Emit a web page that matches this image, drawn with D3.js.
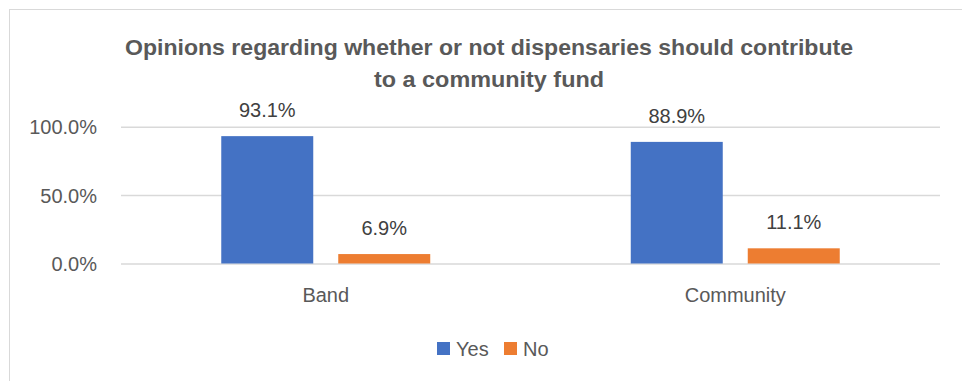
<!DOCTYPE html>
<html>
<head>
<meta charset="utf-8">
<script src="https://cdn.jsdelivr.net/npm/d3@7"></script>
<style>
  html, body { margin: 0; padding: 0; background: #fff; }
  svg { display: block; }
  text { font-family: "Liberation Sans", Arial, sans-serif; }
</style>
</head>
<body>
<svg id="chart" width="962" height="381"></svg>
<script>
// Survey results: share of respondents per group
const categories = ["Band", "Community"];
const seriesNames = ["Yes", "No"];
const yesValues = [93.1, 88.9];
const noValues = [6.9, 11.1];
const yTicks = [0, 50, 100];
const titleLines = [
  "Opinions regarding whether or not dispensaries should contribute",
  "to a community fund"
];
const colors = { Yes: "#4472C4", No: "#ED7D31" };

const svg = d3.select("#chart");
const W = 962, H = 381;

// Chart area border
svg.append("rect")
  .attr("x", 9.5).attr("y", 9.5)
  .attr("width", W + 10).attr("height", H + 10)
  .attr("fill", "#fff").attr("stroke", "#D9D9D9").attr("stroke-width", 1);

const plot = { left: 121, right: 940, top: 126.7, bottom: 263.5 };

const x0 = d3.scaleBand().domain(categories)
  .range([plot.left, plot.right]).paddingInner(0).paddingOuter(0);
const x1 = d3.scaleBand().domain(seriesNames)
  .range([0, x0.bandwidth()]).paddingInner(0.2137).paddingOuter(0.857);
const y = d3.scaleLinear().domain([0, 100]).range([plot.bottom, plot.top]);

// Title
const title = svg.append("g");
titleLines.forEach((t, i) => {
  title.append("text")
    .attr("x", 489).attr("y", 55 + i * 32)
    .attr("text-anchor", "middle")
    .attr("font-size", 22).attr("font-weight", "bold")
    .attr("fill", "#595959")
    .attr("textLength", i === 0 ? 728 : 230)
    .attr("lengthAdjust", "spacingAndGlyphs")
    .text(t);
});

// Gridlines and y tick labels
const yAxis = d3.axisLeft(y).tickValues(yTicks)
  .tickSize(-(plot.right - plot.left))
  .tickFormat(d => d3.format(".1f")(d) + "%")
  .tickPadding(24);
const gy = svg.append("g").attr("transform", `translate(${plot.left},0)`).call(yAxis);
gy.select(".domain").remove();
gy.selectAll(".tick line").attr("stroke", "#D9D9D9").attr("stroke-width", 1.5);
gy.selectAll(".tick text")
  .attr("font-size", 20).attr("fill", "#595959")
  .attr("font-family", "Liberation Sans, Arial, sans-serif")
  .attr("dy", "0.35em");

// Category axis labels
const xAxis = d3.axisBottom(x0).tickSize(0).tickPadding(24);
const gx = svg.append("g").attr("transform", `translate(0,${plot.bottom})`).call(xAxis);
gx.select(".domain").remove();
gx.selectAll(".tick text")
  .attr("font-size", 20).attr("fill", "#595959")
  .attr("font-family", "Liberation Sans, Arial, sans-serif");

// Bars
const rows = categories.map((c, i) => ({
  category: c,
  values: [{ key: "Yes", value: yesValues[i] }, { key: "No", value: noValues[i] }]
}));
const groups = svg.append("g").selectAll("g").data(rows).join("g")
  .attr("transform", d => `translate(${x0(d.category)},0)`);
groups.selectAll("rect").data(d => d.values).join("rect")
  .attr("x", d => x1(d.key))
  .attr("y", d => y(d.value))
  .attr("width", x1.bandwidth())
  .attr("height", d => y(0) - y(d.value))
  .attr("fill", d => colors[d.key]);

// Value labels
groups.selectAll("text.val").data(d => d.values).join("text")
  .attr("class", "val")
  .attr("x", d => x1(d.key) + x1.bandwidth() / 2)
  .attr("y", d => y(d.value) - 19)
  .attr("text-anchor", "middle")
  .attr("font-size", 20).attr("fill", "#404040")
  .text(d => d3.format(".1f")(d.value) + "%");

// Legend
const legend = svg.append("g").attr("transform", "translate(437,342)");
const items = [{ key: "Yes", x: 0 }, { key: "No", x: 67 }];
items.forEach(it => {
  legend.append("rect").attr("x", it.x).attr("y", 0)
    .attr("width", 13).attr("height", 13).attr("fill", colors[it.key]);
  legend.append("text").attr("x", it.x + 19).attr("y", 14)
    .attr("font-size", 20).attr("fill", "#595959").text(it.key);
});
</script>
</body>
</html>
